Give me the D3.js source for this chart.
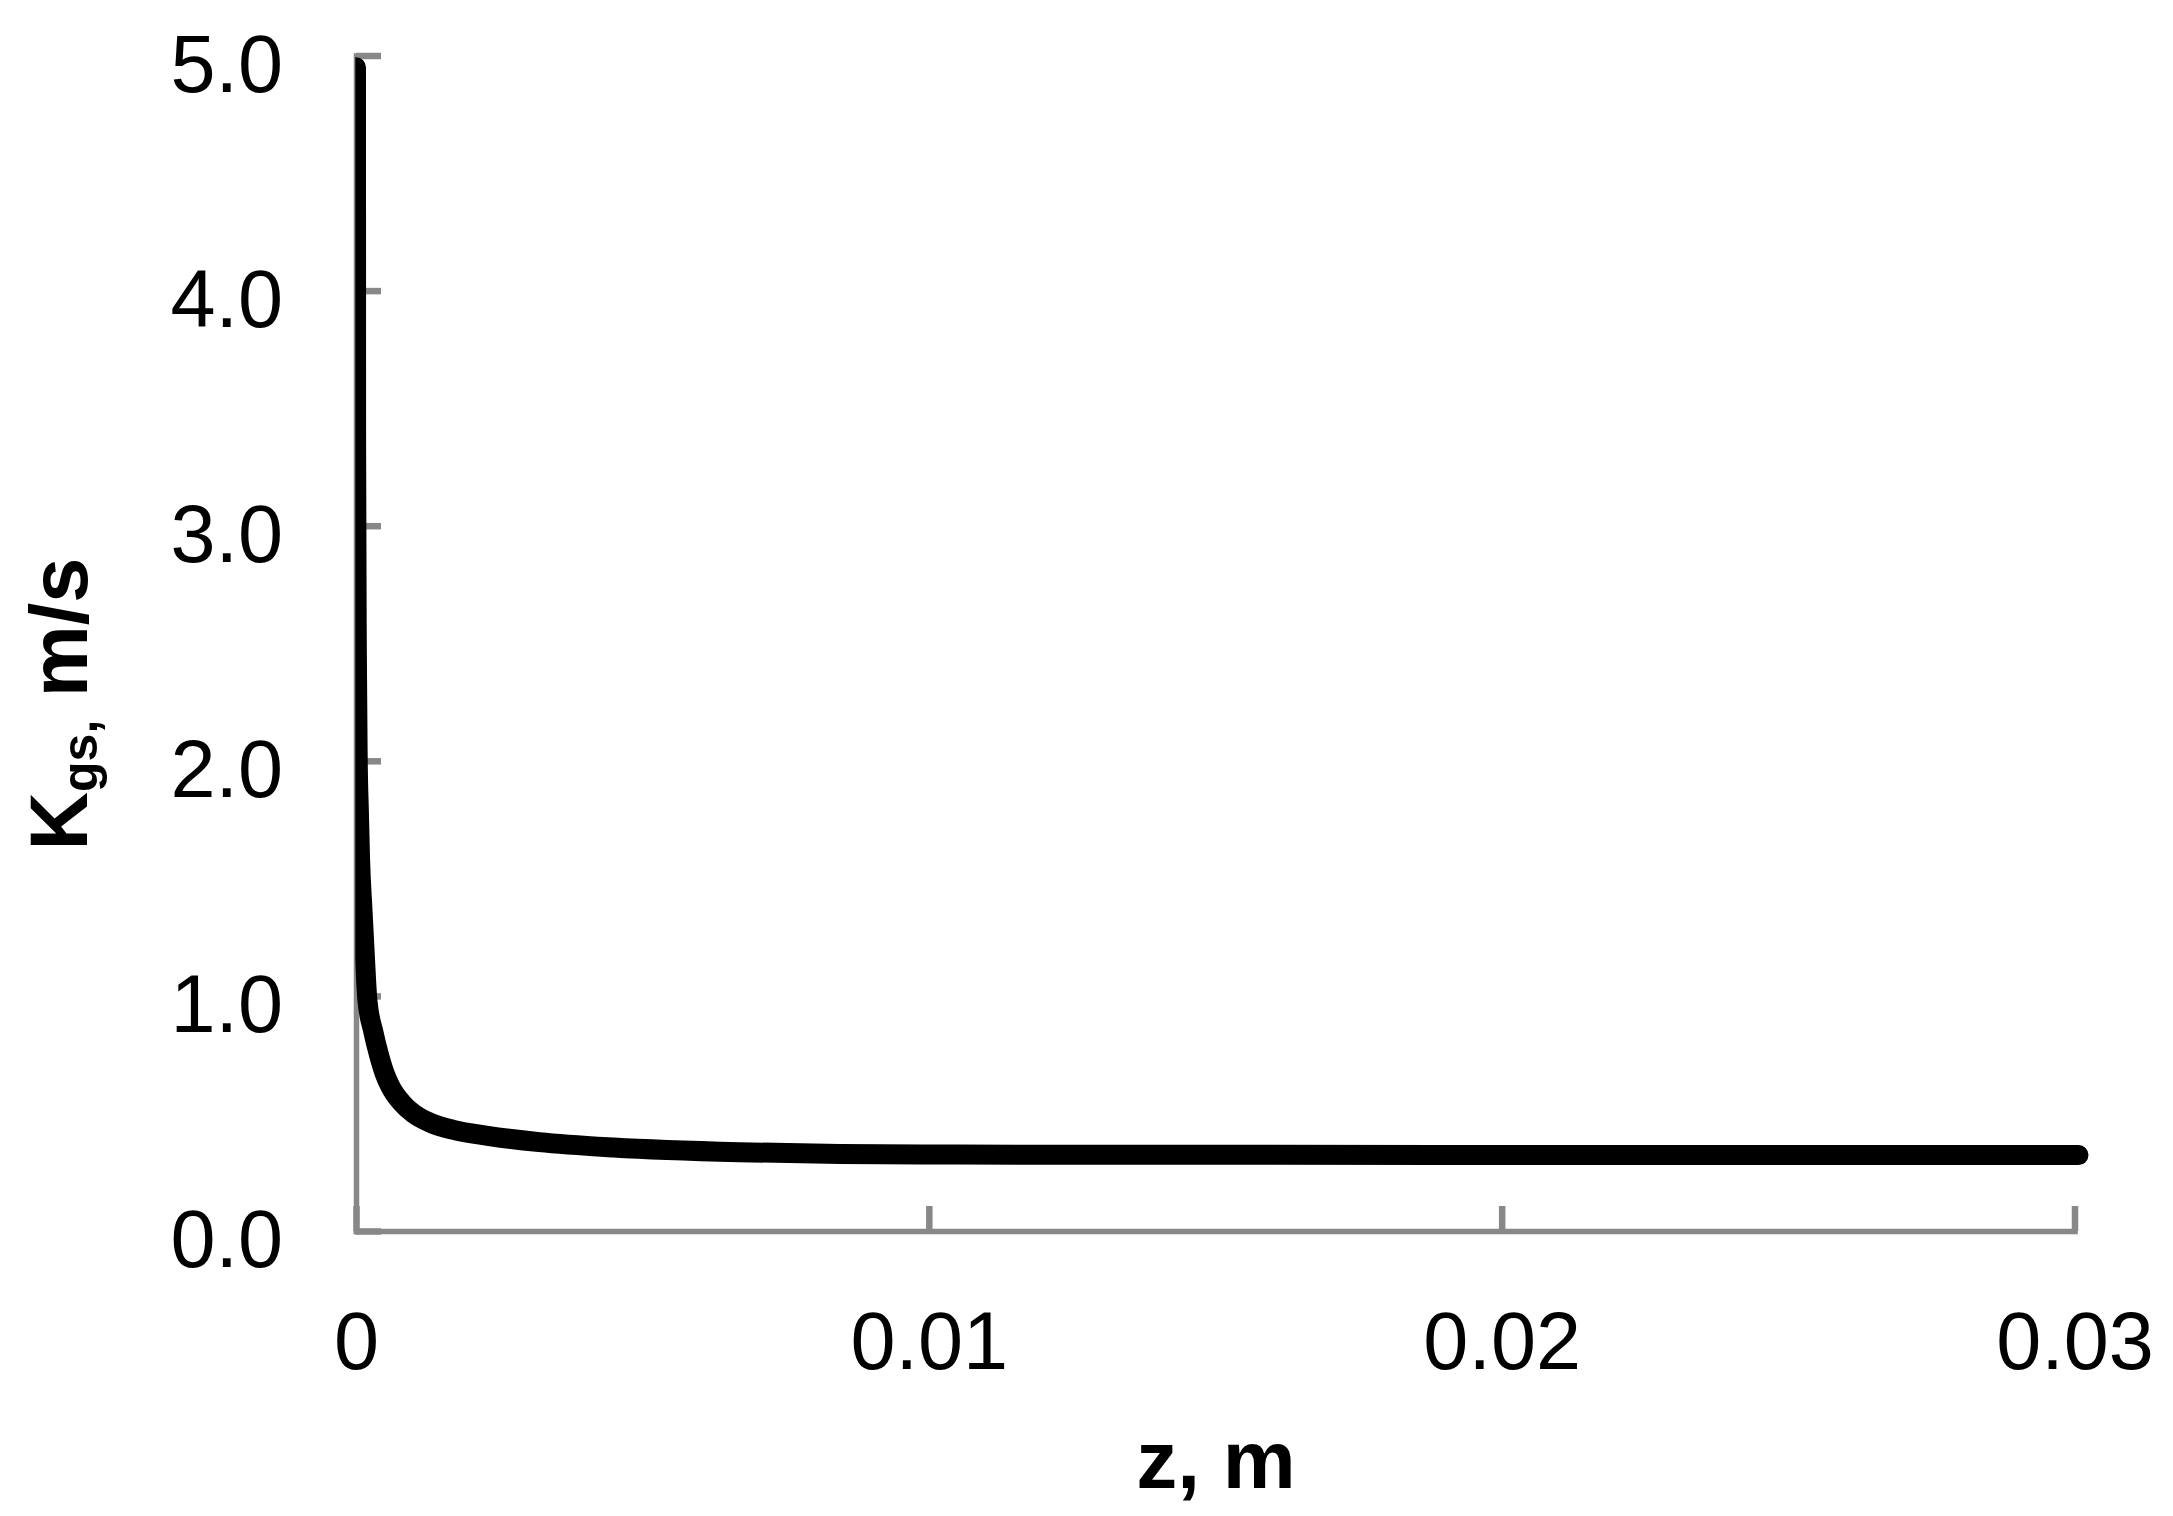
<!DOCTYPE html>
<html>
<head>
<meta charset="utf-8">
<script src="https://cdn.jsdelivr.net/npm/d3@7"></script>
<style>
  html, body { margin: 0; padding: 0; background: #fff; }
  svg { display: block; }
</style>
</head>
<body>
<svg id="chart" width="2173" height="1516"></svg>
<script>
// ---- data ----
const zValues = [0, 0.000002, 0.000015, 0.00003, 0.00005, 0.00007, 0.00011, 0.00014, 0.0002, 0.0003, 0.0004, 0.0005, 0.0006, 0.0008, 0.001, 0.0013, 0.0017, 0.0023, 0.0032, 0.0045, 0.0067, 0.00845, 0.0105, 0.013, 0.016, 0.019, 0.022, 0.025, 0.028, 0.03007];
const kValues = [4.95, 3.36, 2.46, 2.01, 1.79, 1.59, 1.38, 1.24, 0.98, 0.85, 0.75, 0.67, 0.615, 0.545, 0.50, 0.46, 0.43, 0.405, 0.378, 0.355, 0.335, 0.328, 0.325, 0.324, 0.324, 0.323, 0.323, 0.323, 0.323, 0.323];
const xTicks = [0, 0.01, 0.02, 0.03];
const xTickLabels = ["0", "0.01", "0.02", "0.03"];
const yTicks = [0, 1, 2, 3, 4, 5];
const yTickLabels = ["0.0", "1.0", "2.0", "3.0", "4.0", "5.0"];
const xTitle = "z, m";

const svg = d3.select("#chart");
const FONT = "'Liberation Sans', Arial, sans-serif";
const AXIS_COLOR = "#888888";

const x = d3.scaleLinear().domain([0, 0.03]).range([356, 2074.5]);
const y = d3.scaleLinear().domain([0, 5]).range([1231, 55.5]);

// ---- y axis ----
const yAxis = d3.axisLeft(y)
  .tickValues(yTicks)
  .tickFormat((d, i) => yTickLabels[i])
  .tickSizeInner(-25)
  .tickSizeOuter(0)
  .tickPadding(73);
const gy = svg.append("g").attr("transform", `translate(${x(0)},0)`).call(yAxis);

// ---- x axis ----
const xAxis = d3.axisBottom(x)
  .tickValues(xTicks)
  .tickFormat((d, i) => xTickLabels[i])
  .tickSizeInner(-25)
  .tickSizeOuter(0)
  .tickPadding(80);
const gx = svg.append("g").attr("transform", `translate(0,${y(0)})`).call(xAxis);

[gx, gy].forEach(g => {
  g.select(".domain").attr("stroke", AXIS_COLOR).attr("stroke-width", 5.5)
    .attr("stroke-linecap", "square");
  g.selectAll(".tick line").attr("stroke", AXIS_COLOR).attr("stroke-width", 6.5);
  g.selectAll(".tick text").attr("fill", "#000")
    .style("font-family", FONT).style("font-size", "81px");
});
gy.selectAll(".tick text").attr("dy", "0.44em");
gx.selectAll(".tick text").attr("dy", "0.71em");
gx.select(".domain").raise();
gy.select(".domain").raise();

// ---- curve ----
svg.append("clipPath").attr("id", "plotclip")
  .append("rect").attr("x", 355.3).attr("y", 0).attr("width", 1900).attr("height", 1240);

const pts = zValues.map((z, i) => [z, kValues[i]]);
const line = d3.line().x(d => x(d[0])).y(d => y(d[1])).curve(d3.curveMonotoneX);
svg.append("path")
  .datum(pts)
  .attr("d", line)
  .attr("fill", "none")
  .attr("stroke", "#000")
  .attr("stroke-width", 20)
  .attr("stroke-linejoin", "round")
  .attr("stroke-linecap", "round")
  .attr("clip-path", "url(#plotclip)");

// ---- axis titles ----
svg.append("text")
  .attr("x", 1216).attr("y", 1488)
  .attr("text-anchor", "middle")
  .style("font-family", FONT).style("font-size", "82px").style("font-weight", "bold")
  .text(xTitle);

const yt = svg.append("text")
  .attr("transform", "translate(87,704) rotate(-90)")
  .attr("text-anchor", "middle")
  .style("font-family", FONT).style("font-weight", "bold");
yt.append("tspan").style("font-size", "81px").text("K");
yt.append("tspan").style("font-size", "50px").attr("dy", 10).text("gs,");
yt.append("tspan").style("font-size", "81px").attr("dy", -10).text(" m/s");
</script>
</body>
</html>
